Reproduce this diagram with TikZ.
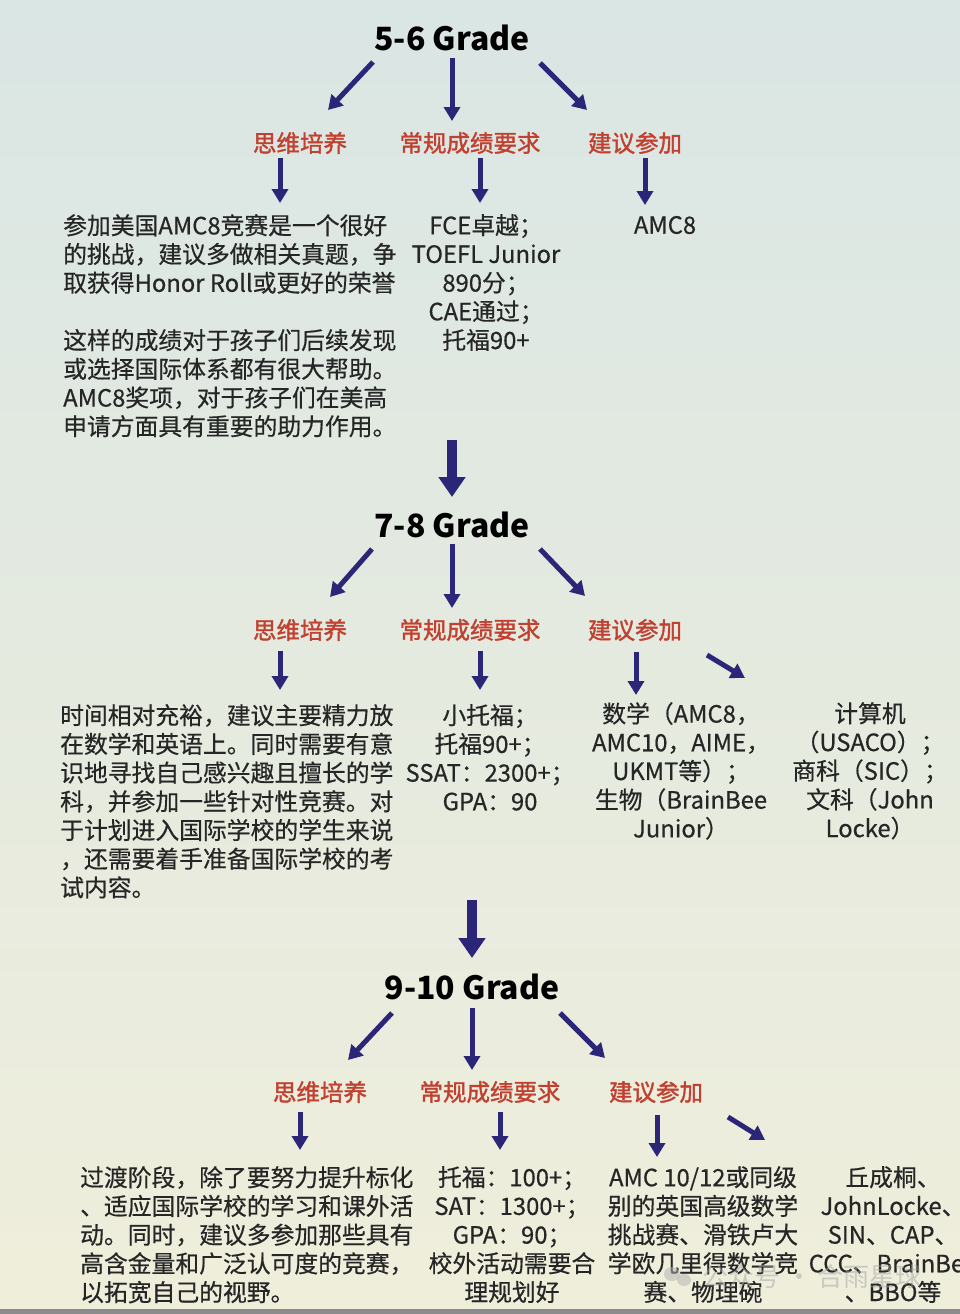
\documentclass[tikz,border=0pt]{standalone}
\usepackage{fontspec}
\newfontfamily\cjk{Noto Sans CJK SC}
\newfontfamily\cjkmed{Noto Sans CJK SC}[FakeBold=0.5]
\newfontfamily\cjksemi{Noto Sans CJK SC}[FakeBold=1.5]
\usepackage{xcolor}
\definecolor{ArrowBlue}{HTML}{2B2678}
\definecolor{LabelRed}{HTML}{C2402F}
\definecolor{TextGray}{HTML}{262626}
\definecolor{BgTop}{HTML}{DAE6E4}
\definecolor{BgMid}{HTML}{DEE8E4}
\definecolor{BgBottom}{HTML}{EFEEDB}
\usepackage{tikz}
\usetikzlibrary{arrows.meta}
\tikzset{>={Triangle[length=14pt,width=16pt]}}
\tikzset{
	grade/.style={font=\cjk\bfseries\fontsize{32}{38}\selectfont, inner sep=0pt},
	branch/.style={font=\cjksemi\fontsize{23.5}{28}\selectfont, text=LabelRed, inner sep=0pt},
	body/.style={font=\cjkmed\fontsize{23.8}{28.7}\selectfont, text=TextGray, inner sep=0pt},
	conn/.style={->, draw=ArrowBlue, line width=5pt},
	bigconn/.style={-{Triangle[length=20pt,width=26pt]}, draw=ArrowBlue, line width=10pt}
}

\begin{document}
\begin{tikzpicture}[x=1pt, y=-1pt]
		% Background
		\useasboundingbox (0,0) rectangle (960,1314);
		\clip (0,0) rectangle (960,1314);
		\shade[top color=BgTop, middle color=BgMid, bottom color=BgBottom] (0,0) rectangle (960,1314);
		\fill[black!45] (0,1309) rectangle (960,1314);
		
		% 5-6 Grade
		\node[grade] (g56) at (452,38) {5-6 Grade};
		\node[branch] (think56) at (300,143) {思维培养};
		\node[branch] (score56) at (470,143) {常规成绩要求};
		\node[branch] (join56) at (635,143) {建议参加};
		\node[body, anchor=north west, align=left] (thinktxt56) at (63,214) {
			参加美国AMC8竞赛是一个很好\\
			的挑战，建议多做相关真题，争\\
			取获得Honor Roll或更好的荣誉\\[28.7pt]
			这样的成绩对于孩子们后续发现\\
			或选择国际体系都有很大帮助。\\
			AMC8奖项，对于孩子们在美高\\
			申请方面具有重要的助力作用。};
		\node[body, anchor=north, align=center] (scoretxt56) at (486,214) {
			FCE卓越；\\
			TOEFL Junior\\
			890分；\\
			CAE通过；\\
			托福90+};
		\node[body] (jointxt56) at (665,225) {AMC8};
		%% Arrows
		\draw[conn] ([xshift=-79pt,yshift=-24pt]g56.center) -- ([xshift=28pt,yshift=33pt]think56.center);
		\draw[conn] ([yshift=-20pt]g56.center) -- ([xshift=-18pt,yshift=22pt]score56.center);
		\draw[conn] ([xshift=88pt,yshift=-25pt]g56.center) -- ([xshift=-48pt,yshift=33pt]join56.center);
		\draw[conn] ([xshift=-20pt,yshift=-15pt]think56.center) -- ([xshift=217pt,yshift=11pt]thinktxt56.north west);
		\draw[conn] ([xshift=10pt,yshift=-15pt]score56.center) -- ([xshift=-6pt,yshift=11pt]scoretxt56.north);
		\draw[conn] ([xshift=10pt,yshift=-15pt]join56.center) -- ([xshift=-20pt,yshift=20pt]jointxt56.center);
		
		% 7-8 Grade
		\node[grade] (g78) at (452,525) {7-8 Grade};
		\node[branch] (think78) at (300,630) {思维培养};
		\node[branch] (score78) at (470,630) {常规成绩要求};
		\node[branch] (join78) at (635,630) {建议参加};
		\node[body, anchor=north west, align=left] (thinktxt78) at (60,704) {
			时间相对充裕，建议主要精力放\\
			在数学和英语上。同时需要有意\\
			识地寻找自己感兴趣且擅长的学\\
			科，并参加一些针对性竞赛。对\\
			于计划进入国际学校的学生来说\\
			，还需要着手准备国际学校的考\\
			试内容。};
		\node[body, anchor=north, align=center] (scoretxt78) at (490,704) {
			小托福；\\
			托福90+；\\
			SSAT：2300+；\\
			GPA：90};
		\node[body, anchor=north, align=center] (mathtxt78) at (681,702) {
			数学（AMC8，\\
			AMC10，AIME，\\
			UKMT等）；\\
			生物（BrainBee\\
			Junior）};
		\node[body, anchor=north, align=center] (comptxt78) at (870,702) {
			计算机\\
			（USACO）；\\
			商科（SIC）；\\
			文科（John\\
			Locke）};
		%% Arrows
		\draw[bigconn, shorten <=402pt, shorten >=28pt] (g56.center) -- (g78.center);
		\draw[conn] ([xshift=-80pt,yshift=-24pt]g78.center) -- ([xshift=30pt,yshift=33pt]think78.center);
		\draw[conn] ([yshift=-19pt]g78.center) -- ([xshift=-18pt,yshift=22pt]score78.center);
		\draw[conn] ([xshift=88pt,yshift=-24pt]g78.center) -- ([xshift=-50pt,yshift=34pt]join78.center);
		\draw[conn] ([xshift=-20pt,yshift=-21pt]think78.center) -- ([xshift=220pt,yshift=14pt]thinktxt78.north west);
		\draw[conn] ([xshift=10pt,yshift=-21pt]score78.center) -- ([xshift=-10pt,yshift=14pt]scoretxt78.north);
		\draw[conn] ([xshift=1pt,yshift=-22pt]join78.center) -- ([xshift=-45pt,yshift=7pt]mathtxt78.north);
		\draw[conn] ([xshift=72pt,yshift=-25pt]join78.center) -- ([xshift=-125pt,yshift=24pt]comptxt78.north);
		
		% 9-10 Grade
		\node[grade] (g910) at (472,987) {9-10 Grade};
		\node[branch] (think910) at (320,1092) {思维培养};
		\node[branch] (score910) at (490,1092) {常规成绩要求};
		\node[branch] (join910) at (656,1092) {建议参加};
		\node[body, anchor=north west, align=left] (thinktxt910) at (80,1166) {
			过渡阶段，除了要努力提升标化\\
			、适应国际学校的学习和课外活\\
			动。同时，建议多参加那些具有\\
			高含金量和广泛认可度的竞赛，\\
			以拓宽自己的视野。};
		\node[body, anchor=north, align=center] (scoretxt910) at (512,1166) {
			托福：100+；\\
			SAT：1300+；\\
			GPA：90；\\
			校外活动需要合\\
			理规划好};
		\node[body, anchor=north, align=center] (mathtxt910) at (703,1166) {
			AMC 10/12或同级\\
			别的英国高级数学\\
			挑战赛、滑铁卢大\\
			学欧几里得数学竞\\
			赛、物理碗};
		\node[body, anchor=north, align=center] (comptxt910) at (893,1166) {
			丘成桐、\\
			JohnLocke、\\
			SIN、CAP、\\
			CCC、BrainBee\\
			、BBO等};
		%% Arrows
		\draw[bigconn, shorten <=375pt, shorten >=29pt] ([xshift=20pt]g78.center) -- (g910.center);
		\draw[conn] ([xshift=-80pt,yshift=-26pt]g910.center) -- ([xshift=28pt,yshift=32pt]think910.center);
		\draw[conn] ([yshift=-21pt]g910.center) -- ([xshift=-18pt,yshift=22pt]score910.center);
		\draw[conn] ([xshift=88pt,yshift=-26pt]g910.center) -- ([xshift=-51pt,yshift=34pt]join910.center);
		\draw[conn] ([xshift=-20pt,yshift=-20pt]think910.center) -- ([xshift=220pt,yshift=16pt]thinktxt910.north west);
		\draw[conn] ([xshift=10pt,yshift=-20pt]score910.center) -- ([xshift=-12pt,yshift=16pt]scoretxt910.north);
		\draw[conn] ([xshift=1pt,yshift=-23pt]join910.center) -- ([xshift=-46pt,yshift=9pt]mathtxt910.north);
		\draw[conn] ([xshift=72pt,yshift=-25pt]join910.center) -- ([xshift=-128pt,yshift=26pt]comptxt910.north);
		
		% Watermark
		\fill[black!30, opacity=0.5] (672,1274) ellipse [x radius=8, y radius=7];
		\fill[black!30, opacity=0.5] (684,1280) ellipse [x radius=7, y radius=6];
		\node[font=\cjk\fontsize{26}{30}\selectfont, text=black!35, opacity=0.5] (mark) at (812,1277) {公众号 · 合雨星球};
	\end{tikzpicture}
\end{document}
